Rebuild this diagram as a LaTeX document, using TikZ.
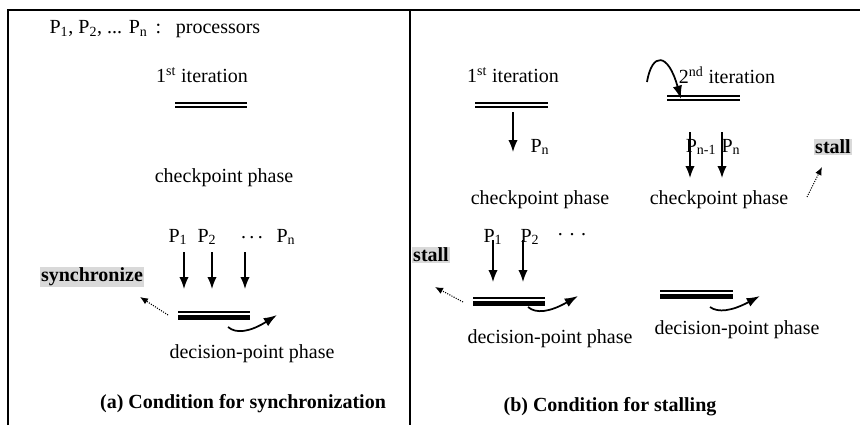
\documentclass[tikz,border=0pt]{standalone}
\usepackage{fontspec}
\setmainfont{Liberation Serif}
\usetikzlibrary{arrows.meta}

\begin{document}
\begin{tikzpicture}[x=0.75pt,y=-0.75pt,
		txt/.style={inner sep=1pt,font=\fontsize{15}{18}\selectfont},
		boldtxt/.style={inner sep=1pt,font=\fontsize{15}{18}\selectfont\bfseries},
		shade/.style={boldtxt,fill=black!15},
		parrow/.style={line width=1.1pt,-{Latex[length=9pt,width=7pt]}},
		dotarrow/.style={densely dotted,line width=0.8pt,-{Latex[length=6pt,width=5pt]}},
		bendarrow/.style={line width=1.3pt,-{Latex[length=10pt,width=7pt]}},
		iterbar/.style={double,double distance=2.2pt,line width=1.1pt},
		thinbar/.style={line width=1.6pt},
		thickbar/.style={line width=3.8pt}]
		\useasboundingbox (0,0) rectangle (860,425);
		\draw[line width=1.5pt] (8,425) -- (8,10) -- (860,10);
		\draw[line width=1.5pt] (410,10) -- (410,425);

		\node[txt,anchor=west] (legend) at (48,29) {P\textsubscript{1}, P\textsubscript{2}, ... P\textsubscript{n}\hspace{6pt}:\hspace{11pt}processors};
		\node[txt] (iterA) at (202,75) {1\textsuperscript{st} iteration};
		\coordinate (iA1) at (175,105);
		\coordinate (iA2) at (247,105);
		\draw[iterbar] (iA1) -- (iA2);
		\node[txt] (checkA) at (224,178) {checkpoint phase};
		\node[txt] (pA1) at (178,237) {P\textsubscript{1}};
		\node[txt] (pA2) at (207,237) {P\textsubscript{2}};
		\node[txt] (pA3) at (252,238) {.\,.\,.};
		\node[txt] (pAn) at (286,237) {P\textsubscript{n}};
		\foreach \x in {184,212,245}
			\draw[parrow] (\x,252) -- (\x,289);
		\node[shade] (sync) at (92,277) {synchronize};
		\coordinate (dA1) at (178,312);
		\coordinate (dA2) at (250,312);
		\draw[thinbar] (dA1) -- (dA2);
		\draw[thickbar] ([yshift=-4.1pt]dA1) -- ([yshift=-4.1pt]dA2);
		\coordinate (sA) at (168,315);
		\coordinate (tA) at (140,297);
		\draw[dotarrow] (sA) -- (tA);
		\draw[bendarrow] (228,327) .. controls (236,334) and (250,332) .. (277,315);
		\node[txt] (decA) at (252,354) {decision-point phase};
		\node[boldtxt] (capA) at (243,404) {(a) Condition for synchronization};

		\node[txt] (iterB) at (513,75) {1\textsuperscript{st} iteration};
		\coordinate (iB1) at (475,105);
		\coordinate (iB2) at (548,105);
		\draw[iterbar] (iB1) -- (iB2);
		\node[txt] (pBn) at (540,147) {P\textsubscript{n}};
		\draw[parrow] (513,112) -- (513,152);
		\node[txt] (checkB) at (540,200) {checkpoint phase};

		\node[txt] (iterC) at (727,75) {2\textsuperscript{nd} iteration};
		\coordinate (iC1) at (667,98);
		\coordinate (iC2) at (740,98);
		\draw[iterbar] (iC1) -- (iC2);
		\draw[bendarrow] (647,82) .. controls (652,52) and (668,52) .. (681,99);
		\node[txt] (pCm) at (701,147) {P\textsubscript{n-1}};
		\node[txt] (pCn) at (731,147) {P\textsubscript{n}};
		\draw[parrow] (690,132) -- (690,178);
		\draw[parrow] (722,132) -- (722,178);
		\node[txt] (checkC) at (719,200) {checkpoint phase};
		\node[shade] (stallA) at (833,147) {stall};
		\coordinate (sC) at (807,197);
		\coordinate (tC) at (822,167);
		\draw[dotarrow] (sC) -- (tC);

		\node[shade] (stallB) at (431,255) {stall};
		\node[txt] (pB1) at (493,237) {P\textsubscript{1}};
		\node[txt] (pB2) at (530,237) {P\textsubscript{2}};
		\node[txt] (pB3) at (572,235) {.\,\,.\,\,.};
		\draw[parrow] (493,240) -- (493,282);
		\draw[parrow] (523,240) -- (523,282);
		\coordinate (dB1) at (473,298);
		\coordinate (dB2) at (545,298);
		\draw[thinbar] (dB1) -- (dB2);
		\draw[thickbar] ([yshift=-4.1pt]dB1) -- ([yshift=-4.1pt]dB2);
		\coordinate (sB) at (463,302);
		\coordinate (tB) at (435,287);
		\draw[dotarrow] (sB) -- (tB);
		\draw[bendarrow] (528,307) .. controls (536,314) and (550,312) .. (578,296);
		\node[txt] (decB) at (550,339) {decision-point phase};

		\coordinate (dC1) at (660,291);
		\coordinate (dC2) at (733,291);
		\draw[thinbar] (dC1) -- (dC2);
		\draw[thickbar] ([yshift=-4.1pt]dC1) -- ([yshift=-4.1pt]dC2);
		\draw[bendarrow] (710,307) .. controls (718,313) and (732,311) .. (760,296);
		\node[txt] (decC) at (737,330) {decision-point phase};
		\node[boldtxt] (capB) at (610,407) {(b) Condition for stalling};
	\end{tikzpicture}
\end{document}
